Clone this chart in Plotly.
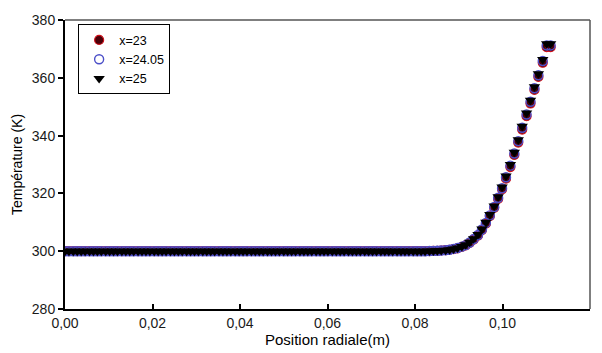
import plotly.graph_objects as go

# Radial positions (m)
x_pos = [0.0000, 0.0009, 0.0019, 0.0028, 0.0037, 0.0046, 0.0056, 0.0065, 0.0074, 0.0083,
         0.0093, 0.0102, 0.0111, 0.0120, 0.0130, 0.0139, 0.0148, 0.0157, 0.0167, 0.0176,
         0.0185, 0.0194, 0.0204, 0.0213, 0.0222, 0.0231, 0.0241, 0.0250, 0.0259, 0.0268,
         0.0278, 0.0287, 0.0296, 0.0305, 0.0315, 0.0324, 0.0333, 0.0342, 0.0352, 0.0361,
         0.0370, 0.0379, 0.0389, 0.0398, 0.0407, 0.0416, 0.0426, 0.0435, 0.0444, 0.0453,
         0.0463, 0.0472, 0.0481, 0.0490, 0.0500, 0.0509, 0.0518, 0.0527, 0.0537, 0.0546,
         0.0555, 0.0564, 0.0574, 0.0583, 0.0592, 0.0601, 0.0611, 0.0620, 0.0629, 0.0638,
         0.0648, 0.0657, 0.0666, 0.0675, 0.0685, 0.0694, 0.0703, 0.0712, 0.0722, 0.0731,
         0.0740, 0.0749, 0.0759, 0.0768, 0.0777, 0.0786, 0.0796, 0.0805, 0.0814, 0.0823,
         0.0833, 0.0842, 0.0851, 0.0860, 0.0870, 0.0879, 0.0888, 0.0897, 0.0907, 0.0916,
         0.0925, 0.0934, 0.0944, 0.0953, 0.0962, 0.0971, 0.0981, 0.0990, 0.0999, 0.1008,
         0.1018, 0.1027, 0.1036, 0.1045, 0.1055, 0.1064, 0.1073, 0.1082, 0.1092, 0.1101,
         0.1110]

flat_part = [300.0] * 90

T_x25_tail = [300.05, 300.1, 300.15, 300.25, 300.35, 300.5, 300.8, 301.1, 301.6, 302.2,
              303.1, 304.3, 305.8, 307.7, 310.0, 312.7, 315.6, 318.8, 322.2, 326.0,
              330.0, 334.2, 338.6, 343.2, 347.8, 352.2, 356.9, 361.4, 366.3, 371.8, 371.8]
T_x2405_tail = [300.05, 300.1, 300.15, 300.25, 300.35, 300.5, 300.8, 301.1, 301.6, 302.1,
                303.0, 304.2, 305.6, 307.5, 309.8, 312.4, 315.3, 318.5, 321.8, 325.6,
                329.6, 333.8, 338.1, 342.7, 347.3, 351.7, 356.4, 360.9, 365.8, 371.2, 371.2]
T_x23_tail = [300.05, 300.1, 300.15, 300.25, 300.35, 300.5, 300.7, 301.0, 301.5, 302.0,
              302.9, 304.0, 305.4, 307.3, 309.5, 312.1, 315.0, 318.1, 321.4, 325.1,
              329.1, 333.3, 337.6, 342.1, 346.7, 351.1, 355.8, 360.3, 365.2, 370.6, 370.6]

T_x23 = flat_part + T_x23_tail
T_x2405 = flat_part + T_x2405_tail
T_x25 = flat_part + T_x25_tail

series_names = ["x=23", "x=24.05", "x=25"]
x_ticks = [0.00, 0.02, 0.04, 0.06, 0.08, 0.10, 0.12]
x_tick_text = ["0,00", "0,02", "0,04", "0,06", "0,08", "0,10", "0,12"]
y_ticks = [280, 300, 320, 340, 360, 380]

fig = go.Figure()
fig.add_trace(go.Scatter(
    x=x_pos, y=T_x23, mode="markers", name=series_names[0],
    marker=dict(symbol="circle", size=9, color="#4a0008",
                line=dict(color="#d0101a", width=1.2))))
fig.add_trace(go.Scatter(
    x=x_pos, y=T_x2405, mode="markers", name=series_names[1],
    marker=dict(symbol="circle-open", size=9, color="#4b4fc8",
                line=dict(color="#4b4fc8", width=1.4))))
fig.add_trace(go.Scatter(
    x=x_pos, y=T_x25, mode="markers", name=series_names[2],
    marker=dict(symbol="triangle-down", size=10, color="#000000",
                line=dict(width=0))))

fig.update_layout(
    width=602, height=353,
    margin=dict(l=65, r=12, t=15, b=32),
    paper_bgcolor="white", plot_bgcolor="white",
    font=dict(family="Liberation Sans, Arial, sans-serif", size=14, color="#1a1a1a"),
    showlegend=True,
    legend=dict(x=0.025, y=0.985, xanchor="left", yanchor="top",
                bgcolor="white", bordercolor="#000000", borderwidth=1,
                font=dict(size=12.5, color="#000000"), itemwidth=30,
                tracegroupgap=0),
    xaxis=dict(range=[0, 0.12], tickvals=x_ticks, ticktext=x_tick_text,
               showgrid=False, zeroline=False, showline=True,
               linecolor="#000000", linewidth=2,
               ticks="inside", ticklen=5, tickwidth=1.5, tickcolor="#000000",
               tickfont=dict(size=14, color="#1a1a1a"),
               title=dict(text="Position radiale(m)", standoff=0,
                          font=dict(size=15, color="#000000"))),
    yaxis=dict(range=[280, 380], tickvals=y_ticks,
               showgrid=False, zeroline=False, showline=True,
               linecolor="#000000", linewidth=2,
               ticks="outside", ticklen=5, tickwidth=1.5, tickcolor="#000000",
               tickfont=dict(size=14, color="#1a1a1a"),
               title=dict(text="Température (K)", standoff=6,
                          font=dict(size=14, color="#000000"))),
    shapes=[
        dict(type="line", xref="paper", yref="paper", x0=0, x1=1, y0=1, y1=1,
             line=dict(color="#555555", width=1.5)),
        dict(type="line", xref="paper", yref="paper", x0=1, x1=1, y0=0, y1=1,
             line=dict(color="#555555", width=1.5)),
    ],
)

fig.write_html("out.html")
